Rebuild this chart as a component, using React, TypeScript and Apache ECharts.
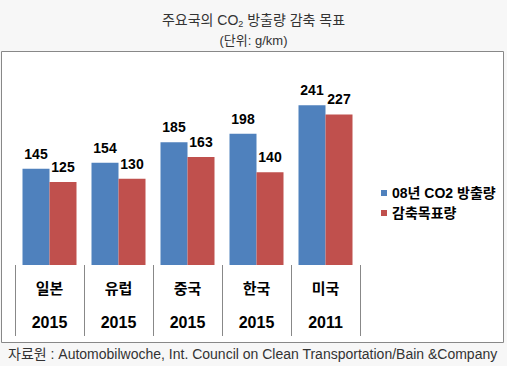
import React, { useEffect, useRef } from "react";
import * as echarts from "echarts";

const countries = ["일본", "유럽", "중국", "한국", "미국"];
const targetYears = ["2015", "2015", "2015", "2015", "2011"];
const emissions2008 = [145, 154, 185, 198, 241];
const reductionTargets = [125, 130, 163, 140, 227];
const seriesNames = ["08년 CO2 방출량", "감축목표량"];

const FONT = "'Liberation Sans', Arial, 'Noto Sans CJK KR', sans-serif";

export default function App() {
  const ref = useRef<HTMLDivElement>(null);
  useEffect(() => {
    if (!ref.current) return;
    const chart = echarts.init(ref.current, null, { renderer: "svg" });
    chart.setOption({
      animation: false,
      backgroundColor: "#f7f7f7",
      textStyle: { fontFamily: FONT },
      title: {
        text: "{a|주요국의 CO}{sub|2}{a| 방출량 감축 목표}",
        subtext: "(단위: g/km)",
        left: "center",
        top: 6,
        itemGap: 6,
        textStyle: {
          fontWeight: "normal",
          rich: {
            a: { fontSize: 14, fontWeight: "normal", color: "#333", fontFamily: FONT, lineHeight: 18 },
            sub: { fontSize: 9, fontWeight: "normal", color: "#333", fontFamily: FONT, lineHeight: 18, verticalAlign: "bottom", padding: [8, 0, 0, 0] },
          },
        },
        subtextStyle: { fontSize: 13, color: "#333", fontFamily: FONT },
      },
      graphic: [
        {
          type: "rect",
          z: -10,
          shape: { x: 1.5, y: 51.5, width: 502, height: 291 },
          style: { fill: "#fff", stroke: "#888", lineWidth: 1 },
        },
        {
          type: "text",
          left: 8,
          top: 347,
          style: {
            text: "자료원 : Automobilwoche, Int. Council on Clean Transportation/Bain &Company",
            fontSize: 14,
            fill: "#333",
            fontFamily: FONT,
          },
        },
      ],
      legend: {
        orient: "vertical",
        left: 376,
        top: 181,
        itemWidth: 6,
        itemHeight: 6,
        itemGap: 6,
        icon: "rect",
        textStyle: { fontSize: 14, fontWeight: "bold", color: "#000", lineHeight: 14 },
        data: seriesNames,
      },
      grid: { left: 15, right: 147, top: 66, bottom: 101 },
      xAxis: {
        type: "category",
        data: countries.map((c, i) => `{a|${c}}\n{b|${targetYears[i]}}`),
        axisLine: { show: false },
        axisTick: { show: true, length: 71, lineStyle: { color: "#888" } },
        axisLabel: {
          margin: 6,
          interval: 0,
          rich: {
            a: { fontSize: 15, fontWeight: "bold", color: "#000", lineHeight: 34, fontFamily: FONT },
            b: { fontSize: 16, fontWeight: "bold", color: "#000", lineHeight: 34, fontFamily: FONT },
          },
        },
      },
      yAxis: { type: "value", min: 0, max: 300, show: false, splitLine: { show: false } },
      series: [
        {
          name: seriesNames[0],
          type: "bar",
          data: emissions2008,
          barWidth: 27,
          barGap: "0%",
          itemStyle: { color: "#4f81bd" },
          label: { show: true, position: "top", distance: 8, fontSize: 14, fontWeight: "bold", color: "#000" },
        },
        {
          name: seriesNames[1],
          type: "bar",
          data: reductionTargets,
          barWidth: 27,
          barGap: "0%",
          itemStyle: { color: "#c0504d" },
          label: { show: true, position: "top", distance: 8, fontSize: 14, fontWeight: "bold", color: "#000" },
        },
      ],
    });
    return () => chart.dispose();
  }, []);
  return <div ref={ref} style={{ position: "absolute", left: 0, top: 0, width: 507, height: 366 }} />;
}
